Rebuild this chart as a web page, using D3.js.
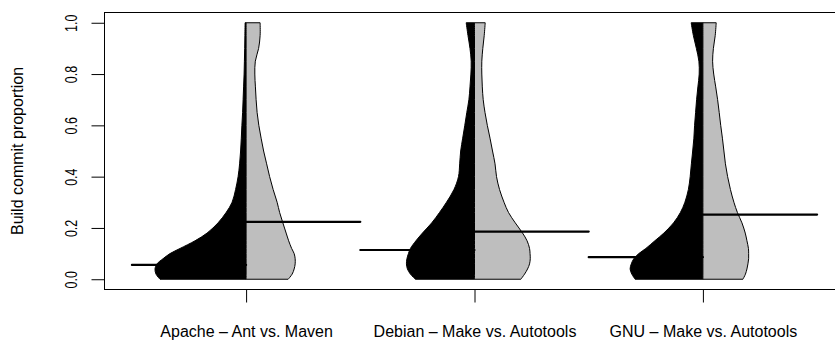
<!DOCTYPE html>
<html>
<head>
<meta charset="utf-8">
<script src="https://cdn.jsdelivr.net/npm/d3@7"></script>
<style>
  html, body { margin: 0; padding: 0; background: #fff; }
  svg { display: block; }
  text { font-family: "Liberation Sans", Arial, Helvetica, sans-serif; fill: #000; }
</style>
</head>
<body>
<svg id="chart" width="835" height="345"></svg>
<script>
// ---------- data ----------
const categories = ["Apache \u2013 Ant vs. Maven", "Debian \u2013 Make vs. Autotools", "GNU \u2013 Make vs. Autotools"];
const yTicks = [0, 0.2, 0.4, 0.6, 0.8, 1.0];
const yTickLabels = ["0.0", "0.2", "0.4", "0.6", "0.8", "1.0"];
const yLabel = "Build commit proportion";

// evaluation points of the (relative) densities along the y axis
const densityGrid = [0, 0.02, 0.04, 0.06, 0.08, 0.1, 0.12, 0.15, 0.18, 0.22, 0.26, 0.3, 0.35, 0.4, 0.45, 0.5, 0.55, 0.6, 0.65, 0.7, 0.75, 0.8, 0.85, 0.9, 0.95, 1.0];

// left (black) half densities
const apacheAnt     = [86, 90, 91, 89, 83, 76, 66, 51, 39, 28, 20, 14, 10.5, 8, 6.5, 5.5, 4.8, 4.2, 3.5, 3, 2.5, 2, 1.7, 1.4, 1.2, 1];
const debianMake    = [59, 64, 67, 68, 67.5, 66, 64, 58.5, 52, 42.7, 35, 28, 20.5, 16, 14.8, 13.8, 11.8, 9.7, 7.7, 5.6, 4.5, 3.6, 3.3, 4.5, 6.5, 8.3];
const gnuMake       = [67.7, 71, 72.7, 71.5, 69, 64, 57, 48, 39, 29.3, 22.5, 18, 14.5, 12.7, 11.5, 10.2, 9, 8.3, 7.3, 6.3, 5, 3.7, 4, 6.5, 9.5, 11.7];
// right (grey) half densities
const apacheMaven   = [42, 46, 48, 49, 49, 48, 45.5, 42.5, 40, 36.7, 33.5, 31, 27, 23.5, 20.5, 17.5, 15, 12.7, 11, 10, 9.3, 8.7, 9.2, 12.5, 14, 14];
const debianAuto    = [46.3, 50, 53, 55, 55.7, 55.5, 55, 52.5, 48, 40.7, 34, 29.5, 25, 22, 20.5, 18, 15.5, 12.8, 10.5, 8.7, 7.8, 7.3, 7.3, 8.3, 9.7, 10.7];
const gnuAuto       = [40, 42.5, 44, 45, 45.7, 45.7, 45.5, 44, 42.3, 39, 34.5, 31, 27.5, 24.7, 22.5, 21, 19.5, 17.8, 16.3, 14.7, 12.8, 10.8, 9.7, 10.5, 12.3, 13.3];

const leftDensities  = [apacheAnt, debianMake, gnuMake];
const rightDensities = [apacheMaven, debianAuto, gnuAuto];

// medians
const leftMedians  = [0.056, 0.114, 0.086];
const rightMedians = [0.224, 0.186, 0.252];

// ---------- drawing ----------
const svg = d3.select("#chart");

const box = { left: 104.5, right: 844.5, top: 12.5, bottom: 289.5 };

const x = d3.scaleLinear().domain([0.38, 3.62]).range([box.left, box.right]);
const y = d3.scaleLinear().domain([-0.04, 1.04]).range([box.bottom, box.top]);
// relative density -> half-width in category units
const w = d3.scaleLinear().domain([0, 100]).range([0, 100 / 228.15]);

const leftColor = "#000000";
const rightColor = "#bebebe";

categories.forEach((cat, i) => {
  const c = i + 1;
  const leftPts = densityGrid.map((v, k) => ({ v, d: leftDensities[i][k] }));
  const rightPts = densityGrid.map((v, k) => ({ v, d: rightDensities[i][k] }));

  const leftArea = d3.area()
    .curve(d3.curveCatmullRom.alpha(0.5))
    .y(d => y(d.v))
    .x0(d => x(c - w(d.d)))
    .x1(() => x(c));
  const rightArea = d3.area()
    .curve(d3.curveCatmullRom.alpha(0.5))
    .y(d => y(d.v))
    .x0(() => x(c))
    .x1(d => x(c + w(d.d)));

  svg.append("path")
    .attr("d", leftArea(leftPts))
    .attr("fill", leftColor)
    .attr("stroke", "#000")
    .attr("stroke-width", 1)
    .attr("stroke-linejoin", "round");
  svg.append("path")
    .attr("d", rightArea(rightPts))
    .attr("fill", rightColor)
    .attr("stroke", "#000")
    .attr("stroke-width", 1)
    .attr("stroke-linejoin", "round");
});

// median lines
categories.forEach((cat, i) => {
  const c = i + 1;
  svg.append("line")
    .attr("x1", x(c - 0.5)).attr("x2", x(c))
    .attr("y1", y(leftMedians[i])).attr("y2", y(leftMedians[i]))
    .attr("stroke", "#000").attr("stroke-width", 2.2).attr("stroke-linecap", "round");
  svg.append("line")
    .attr("x1", x(c)).attr("x2", x(c + 0.5))
    .attr("y1", y(rightMedians[i])).attr("y2", y(rightMedians[i]))
    .attr("stroke", "#000").attr("stroke-width", 2.2).attr("stroke-linecap", "round");
});

// box
svg.append("rect")
  .attr("x", box.left).attr("y", box.top)
  .attr("width", box.right - box.left).attr("height", box.bottom - box.top)
  .attr("fill", "none").attr("stroke", "#000").attr("stroke-width", 1);

// y axis
const yAxis = d3.axisLeft(y).tickValues(yTicks).tickSize(13).tickPadding(0)
  .tickFormat((d, k) => yTickLabels[k]);
const gy = svg.append("g").attr("transform", `translate(${box.left},0)`).call(yAxis);
gy.select(".domain").attr("d", `M0,${y(0)}V${y(1)}`).attr("stroke", "#000");
gy.selectAll(".tick line").attr("stroke", "#000");
gy.selectAll(".tick text")
  .attr("x", 0).attr("dy", null)
  .attr("transform", "translate(-27.5,0) rotate(-90) scale(1,1.3)")
  .attr("text-anchor", "middle")
  .attr("font-size", 12.5)
  .attr("font-family", "Liberation Sans, Arial, sans-serif");

// x axis
const xAxis = d3.axisBottom(x).tickValues([1, 2, 3]).tickSize(13).tickPadding(0)
  .tickFormat((d) => categories[d - 1]);
const gx = svg.append("g").attr("transform", `translate(0,${box.bottom})`).call(xAxis);
gx.select(".domain").attr("d", `M${x(1)},0H${x(3)}`).attr("stroke", "#000");
gx.selectAll(".tick line").attr("stroke", "#000");
gx.selectAll(".tick text")
  .attr("y", 47).attr("dy", null)
  .attr("font-size", 16)
  .attr("font-family", "Liberation Sans, Arial, sans-serif");

// y label
svg.append("text")
  .attr("transform", `translate(22.5,${(box.top + box.bottom) / 2}) rotate(-90)`)
  .attr("text-anchor", "middle")
  .attr("font-size", 16)
  .text(yLabel);
</script>
</body>
</html>
